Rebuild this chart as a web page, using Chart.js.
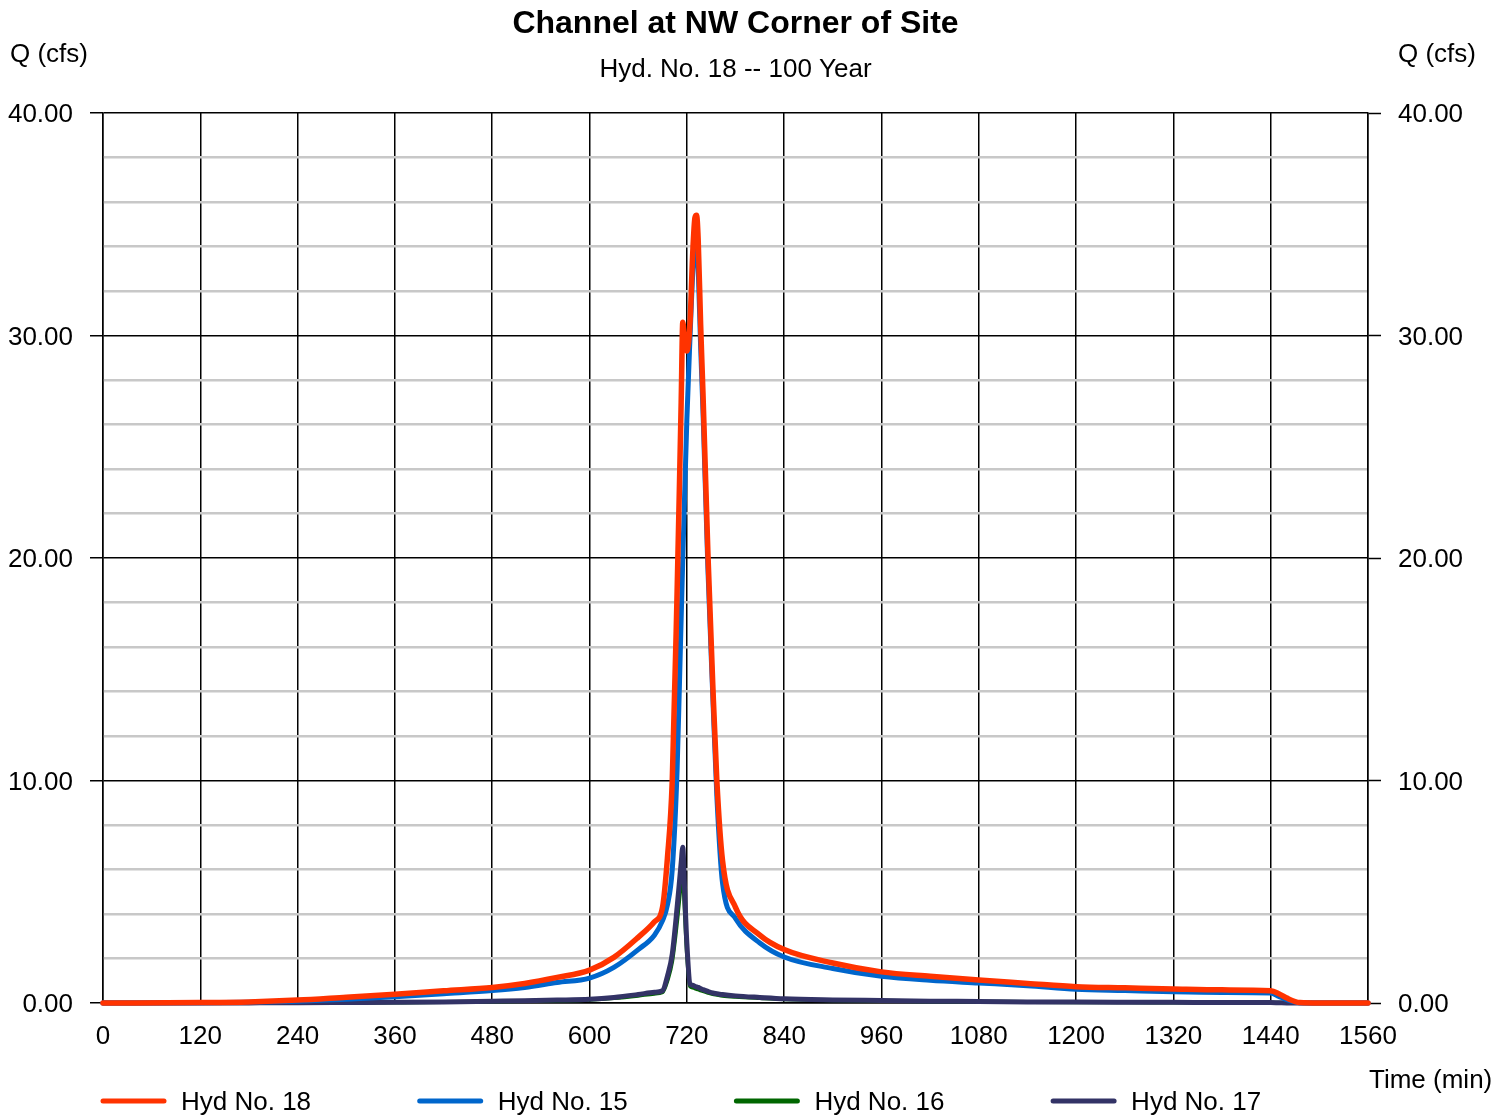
<!DOCTYPE html>
<html>
<head>
<meta charset="utf-8">
<title>Channel at NW Corner of Site</title>
<script src="https://cdn.jsdelivr.net/npm/chart.js@4.4.1/dist/chart.umd.min.js"></script>
<style>
  html, body { margin: 0; padding: 0; background: #fff; }
  #hydrograph { display: block; }
</style>
</head>
<body>
<canvas id="hydrograph" width="1512" height="1116"></canvas>
<script>
const chartTitle = 'Channel at NW Corner of Site';
const chartSubtitle = 'Hyd. No. 18 -- 100 Year';
const flowLabel = 'Q (cfs)';
const timeLabel = 'Time (min)';

// time in minutes, shared by all hydrographs
const timeMin = [0, 120, 180, 240, 300, 360, 420, 480, 520, 560,
  600, 630, 660, 680, 690, 696, 702, 708, 711, 713,
  715, 717, 720, 724, 727, 730, 732, 734, 737, 740,
  746, 752, 757, 764, 780, 810, 840, 900, 960, 1020,
  1080, 1140, 1200, 1260, 1320, 1380, 1440, 1450, 1460, 1476,
  1500, 1560];

// flows in cfs
const hyd18 = [0, 0.02, 0.05, 0.13, 0.26, 0.39, 0.55, 0.70, 0.88, 1.15,
  1.48, 2.05, 2.95, 3.65, 4.30, 6.50, 10.00, 18.50, 23.50, 27.00,
  30.60, 29.90, 29.30, 30.60, 33.50, 35.30, 35.40, 34.30, 30.50, 27.30,
  20.20, 14.30, 10.00, 6.40, 4.30, 3.05, 2.40, 1.80, 1.40, 1.20,
  1.03, 0.88, 0.73, 0.68, 0.63, 0.59, 0.55, 0.42, 0.22, 0.02,
  0, 0];
const hyd15 = [0, 0.01, 0.03, 0.08, 0.17, 0.28, 0.42, 0.56, 0.70, 0.92,
  1.12, 1.60, 2.40, 3.05, 3.70, 4.40, 6.00, 10.50, 14.50, 17.30,
  20.00, 22.50, 26.20, 30.00, 32.60, 34.00, 34.10, 33.00, 29.50, 26.50,
  19.50, 13.80, 9.30, 5.40, 3.80, 2.70, 2.07, 1.55, 1.20, 1.02,
  0.90, 0.78, 0.62, 0.56, 0.50, 0.47, 0.45, 0.30, 0.15, 0.01,
  0, 0];
const hyd16 = [0, 0, 0.004, 0.008, 0.015, 0.025, 0.04, 0.07, 0.09, 0.11,
  0.15, 0.22, 0.33, 0.42, 0.48, 1.00, 1.90, 3.70, 4.80, 5.40,
  6.00, 4.50, 2.30, 0.75, 0.70, 0.66, 0.63, 0.61, 0.57, 0.53,
  0.46, 0.40, 0.37, 0.33, 0.28, 0.22, 0.17, 0.12, 0.10, 0.07,
  0.06, 0.045, 0.035, 0.03, 0.025, 0.02, 0.015, 0.01, 0, 0,
  0, 0];
const hyd17 = [0, 0, 0.005, 0.01, 0.02, 0.03, 0.05, 0.08, 0.10, 0.13,
  0.17, 0.25, 0.38, 0.48, 0.55, 1.20, 2.20, 4.30, 5.50, 6.30,
  7.00, 5.30, 2.70, 0.85, 0.80, 0.75, 0.72, 0.70, 0.65, 0.60,
  0.52, 0.45, 0.42, 0.38, 0.32, 0.25, 0.19, 0.14, 0.11, 0.08,
  0.07, 0.05, 0.04, 0.035, 0.03, 0.025, 0.02, 0.01, 0, 0,
  0, 0];

const seriesNames = ['Hyd No. 18', 'Hyd No. 15', 'Hyd No. 16', 'Hyd No. 17'];
const seriesFlows = [hyd18, hyd15, hyd16, hyd17];
const seriesColors = ['#ff3300', '#0066cc', '#006600', '#333366'];
const seriesWidths = [5.5, 5, 4, 5];
const drawOrder = [1, 2, 4, 3];

const FONT = '"Liberation Sans", Arial, sans-serif';
Chart.defaults.font.family = FONT;
Chart.defaults.font.size = 26;
Chart.defaults.color = '#000';

function isMajor(v) {
  return Math.abs(v % 10) < 1e-6;
}

// titles, axis captions and the legend row along the bottom
const hydText = {
  id: 'hydText',
  afterDraw(chart) {
    const ctx = chart.ctx;
    const area = chart.chartArea;
    const mid = (area.left + area.right) / 2;
    ctx.save();
    ctx.fillStyle = '#000';
    ctx.textBaseline = 'alphabetic';
    ctx.textAlign = 'center';
    ctx.font = 'bold 32px ' + FONT;
    ctx.fillText(chartTitle, mid, 33);
    ctx.font = '26px ' + FONT;
    ctx.fillText(chartSubtitle, mid, 77);
    ctx.textAlign = 'left';
    ctx.fillText(flowLabel, 10, 62);
    ctx.fillText(flowLabel, area.right + 30, 62);
    ctx.fillText(timeLabel, area.right + 1, 1088);

    chart.data.datasets.forEach((ds, i) => {
      const x = 100 + i * 316.7;
      ctx.beginPath();
      ctx.strokeStyle = ds.borderColor;
      ctx.lineWidth = 5;
      ctx.lineCap = 'round';
      ctx.moveTo(x + 3, 1101);
      ctx.lineTo(x + 64, 1101);
      ctx.stroke();
      ctx.fillText(ds.label, x + 81, 1110);
    });
    ctx.restore();
  }
};

const flowTicks = {
  stepSize: 2,
  autoSkip: false,
  maxTicksLimit: 50,
  padding: 17,
  labelOffset: 2,
  callback: v => isMajor(v) ? v.toFixed(2) : ''
};

new Chart(document.getElementById('hydrograph'), {
  type: 'line',
  data: {
    datasets: seriesNames.map((name, i) => ({
      label: name,
      data: timeMin.map((t, k) => ({ x: t, y: seriesFlows[i][k] })),
      borderColor: seriesColors[i],
      backgroundColor: seriesColors[i],
      borderWidth: seriesWidths[i],
      pointRadius: 0,
      cubicInterpolationMode: 'monotone',
      borderJoinStyle: 'round',
      borderCapStyle: 'round',
      clip: 6,
      order: drawOrder[i]
    }))
  },
  options: {
    responsive: false,
    animation: false,
    devicePixelRatio: 1,
    layout: { padding: { top: 113, left: 0, right: 0, bottom: 0 } },
    plugins: {
      legend: { display: false },
      tooltip: { enabled: false }
    },
    scales: {
      x: {
        type: 'linear',
        min: 0,
        max: 1560,
        ticks: {
          stepSize: 120,
          autoSkip: false,
          maxRotation: 0,
          padding: 18,
          callback: v => String(v)
        },
        grid: { color: '#000', lineWidth: 1.5, drawTicks: false },
        border: { color: '#000', width: 1.5 },
        afterFit: s => { s.height = 113; }
      },
      y: {
        position: 'left',
        min: 0,
        max: 40,
        ticks: flowTicks,
        grid: {
          color: c => isMajor(c.tick.value) ? '#000' : '#c8c8c8',
          lineWidth: c => isMajor(c.tick.value) ? 1.5 : 2.5,
          tickLength: 13,
          tickWidth: 1.5,
          tickColor: c => isMajor(c.tick.value) ? '#000' : 'rgba(0,0,0,0)'
        },
        border: { color: '#000', width: 1.5 },
        afterFit: s => { s.width = 103; }
      },
      y2: {
        position: 'right',
        min: 0,
        max: 40,
        ticks: flowTicks,
        grid: {
          drawOnChartArea: false,
          tickLength: 13,
          tickWidth: 1.5,
          tickColor: c => isMajor(c.tick.value) ? '#000' : 'rgba(0,0,0,0)'
        },
        border: { color: '#000', width: 1.5 },
        afterFit: s => { s.width = 144; }
      }
    }
  },
  plugins: [hydText]
});
</script>
</body>
</html>
